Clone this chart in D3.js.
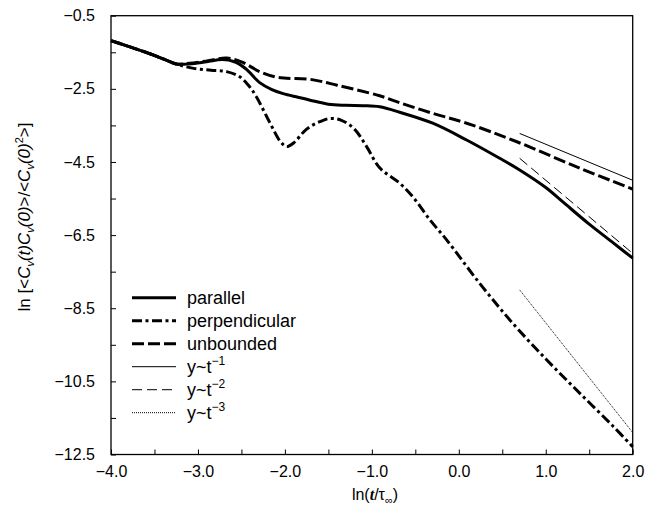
<!DOCTYPE html>
<html lang="en">
<head>
    <meta charset="UTF-8">
    <title>Velocity autocorrelation</title>
    <script src="https://cdn.jsdelivr.net/npm/d3@7"></script>
    <style>
        body { margin: 0; background: #fff; }
        text { font-family: "Liberation Sans", Arial, Helvetica, sans-serif; fill: #000; }
    </style>
</head>
<body>
<script>
    // shared start of all three curves
    var common = [[-4.0, -1.18], [-3.8, -1.34], [-3.6, -1.50], [-3.4, -1.68], [-3.25, -1.82]];

    var parallel = common.concat([
        [-3.1, -1.82], [-2.9, -1.76], [-2.72, -1.70], [-2.58, -1.76], [-2.45, -1.95],
        [-2.29, -2.33], [-2.15, -2.52], [-2.02, -2.63], [-1.85, -2.73], [-1.71, -2.81],
        [-1.5, -2.92], [-1.3, -2.95], [-1.1, -2.96], [-0.91, -2.99], [-0.68, -3.14],
        [-0.30, -3.44], [0.09, -3.90], [0.47, -4.40], [0.70, -4.72], [1.0, -5.20],
        [1.2, -5.60], [1.5, -6.20], [1.78, -6.72], [2.0, -7.13]
    ]);

    var perpendicular = common.concat([
        [-3.05, -1.94], [-2.85, -1.99], [-2.67, -2.03], [-2.52, -2.17], [-2.42, -2.40],
        [-2.33, -2.71], [-2.17, -3.44], [-2.05, -3.95], [-1.98, -4.08], [-1.9, -3.98],
        [-1.75, -3.60], [-1.6, -3.40], [-1.48, -3.31], [-1.35, -3.36], [-1.2, -3.60],
        [-1.06, -4.08], [-0.91, -4.66], [-0.68, -5.08], [-0.53, -5.45], [-0.33, -6.09],
        [-0.14, -6.63], [0.24, -7.82], [0.62, -8.91], [1.01, -9.91], [1.39, -10.82],
        [1.78, -11.74], [2.0, -12.29]
    ]);

    var unbounded = common.concat([
        [-3.1, -1.80], [-2.9, -1.74], [-2.67, -1.66], [-2.5, -1.76], [-2.29, -2.03],
        [-2.1, -2.18], [-1.98, -2.21], [-1.71, -2.24], [-1.4, -2.40], [-0.91, -2.69],
        [-0.68, -2.88], [-0.30, -3.17], [0.09, -3.44], [0.66, -3.94], [1.39, -4.67],
        [2.0, -5.24]
    ]);

    // power-law guide lines (two end points each)
    var slope1 = [[0.70, -3.72], [2.0, -5.00]];
    var slope2 = [[0.70, -4.40], [2.0, -7.00]];
    var slope3 = [[0.70, -8.00], [2.0, -11.90]];

    var xTicks = [-4.0, -3.5, -3.0, -2.5, -2.0, -1.5, -1.0, -0.5, 0.0, 0.5, 1.0, 1.5, 2.0];
    var yTicks = [-0.5, -1.5, -2.5, -3.5, -4.5, -5.5, -6.5, -7.5, -8.5, -9.5, -10.5, -11.5, -12.5];
    var legendNames = ["parallel", "perpendicular", "unbounded", "y~t", "y~t", "y~t"];
    var legendPowers = [null, null, null, "\u22121", "\u22122", "\u22123"];

    // svg
    var width = 645, height = 506;
    var margin = {left: 111, top: 15.7, right: 12.3, bottom: 51.5};
    var svg = d3.select("body").append("svg")
                .attr("width", width)
                .attr("height", height);

    var xScale = d3.scaleLinear().domain([-4, 2]).range([margin.left, width - margin.right]);
    var yScale = d3.scaleLinear().domain([-0.5, -12.5]).range([margin.top, height - margin.bottom]);

    var fmt = d3.format(".1f");

    // x axis, ticks point inward
    var axisX = d3.axisBottom(xScale)
                  .tickValues(xTicks)
                  .tickSize(-5)
                  .tickSizeOuter(0)
                  .tickPadding(11)
                  .tickFormat(function (d) { return Math.round(d) === d ? fmt(d) : ""; });
    var gx = svg.append("g")
       .attr("transform", "translate(0," + (height - margin.bottom) + ")")
       .call(axisX);
    gx.select(".domain").remove();
    gx.selectAll("text").style("font-size", "16px");

    var axisY = d3.axisLeft(yScale)
                  .tickValues(yTicks)
                  .tickSize(-5)
                  .tickSizeOuter(0)
                  .tickPadding(16)
                  .tickFormat(function (d, i) { return i % 2 === 0 ? fmt(d) : ""; });
    var gy = svg.append("g")
       .attr("transform", "translate(" + margin.left + ",0)")
       .call(axisY);
    gy.select(".domain").remove();
    gy.selectAll("text").style("font-size", "16px");

    // frame
    svg.append("rect")
       .attr("x", margin.left).attr("y", margin.top)
       .attr("width", width - margin.left - margin.right)
       .attr("height", height - margin.top - margin.bottom)
       .attr("fill", "none")
       .attr("stroke", "#000")
       .attr("stroke-width", 1.3);

    // curves
    var line = d3.line()
                 .x(function (d) { return xScale(d[0]); })
                 .y(function (d) { return yScale(d[1]); })
                 .curve(d3.curveCatmullRom.alpha(0.5));

    var styles = [
        {w: 3, dash: null},
        {w: 3, dash: "10,3.5,3,3.5"},
        {w: 3, dash: "12,4"},
        {w: 1, dash: null},
        {w: 1, dash: "10,5"},
        {w: 1, dash: "1,1"}
    ];
    var series = [parallel, perpendicular, unbounded, slope1, slope2, slope3];

    svg.selectAll(".curve")
       .data(series)
       .enter()
       .append("path")
       .attr("class", "curve")
       .attr("d", line)
       .attr("fill", "none")
       .attr("stroke", "#000")
       .attr("stroke-width", function (d, i) { return styles[i].w; })
       .attr("stroke-dasharray", function (d, i) { return styles[i].dash; });

    // legend
    var legend = svg.selectAll(".legend")
                    .data(legendNames)
                    .enter()
                    .append("g")
                    .attr("class", "legend")
                    .attr("transform", function (d, i) { return "translate(132," + (297.7 + i * 23) + ")"; });
    legend.append("line")
          .attr("x1", 0).attr("x2", 44)
          .attr("y1", 0).attr("y2", 0)
          .attr("stroke", "#000")
          .attr("stroke-width", function (d, i) { return styles[i].w; })
          .attr("stroke-dasharray", function (d, i) { return styles[i].dash; });
    legend.append("text")
          .attr("x", 55)
          .attr("y", 6)
          .style("font-size", "18px")
          .text(function (d) { return d; })
          .each(function (d, i) {
              if (legendPowers[i] !== null) {
                  d3.select(this).append("tspan")
                    .attr("dy", -8)
                    .style("font-size", "12px")
                    .text(legendPowers[i]);
              }
          });

    // x label
    var xl = svg.append("text")
                .attr("x", 375).attr("y", 500)
                .attr("text-anchor", "middle")
                .style("font-size", "16px");
    xl.append("tspan").text("ln(");
    xl.append("tspan").style("font-family", "'Liberation Serif', serif").style("font-style", "italic").style("font-weight", "bold").text("t");
    xl.append("tspan").text("/\u03c4");
    xl.append("tspan").attr("dy", 4).style("font-size", "11px").text("\u221e");
    xl.append("tspan").attr("dy", -4).text(")");

    // y label
    var yl = svg.append("text")
                .attr("transform", "translate(30,217) rotate(-90)")
                .attr("text-anchor", "middle")
                .style("font-size", "17px");
    function piece(t, opts) {
        var s = yl.append("tspan").text(t);
        if (opts && opts.it) s.style("font-style", "italic");
        if (opts && opts.dy) s.attr("dy", opts.dy);
        if (opts && opts.small) s.style("font-size", "11px");
        return s;
    }
    piece("ln [<");
    piece("C", {it: 1});
    piece("v", {it: 1, dy: 4, small: 1});
    piece("(t)C", {it: 1, dy: -4});
    piece("v", {it: 1, dy: 4, small: 1});
    piece("(0)", {it: 1, dy: -4});
    piece(">/<");
    piece("C", {it: 1});
    piece("v", {it: 1, dy: 4, small: 1});
    piece("(0)", {it: 1, dy: -4});
    piece("2", {dy: -7, small: 1});
    piece(">]", {dy: 7});
</script>
</body>
</html>
